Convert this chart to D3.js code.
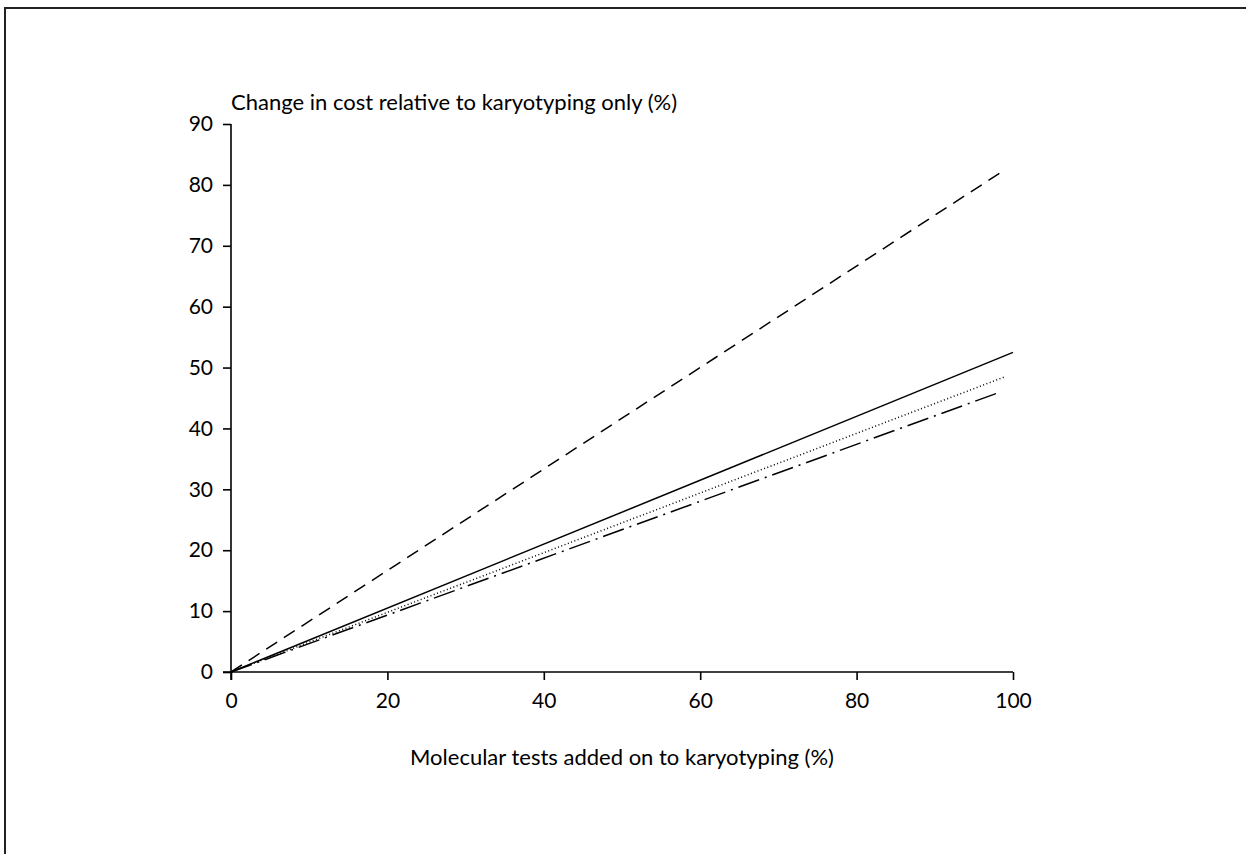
<!DOCTYPE html>
<html lang="en">
<head>
    <meta charset="UTF-8">
    <title>Change in cost vs molecular tests</title>
    <script src="https://cdn.jsdelivr.net/npm/d3@7"></script>
    <style>
        html, body {
            margin: 0;
            padding: 0;
            background: #fff;
        }

        svg {
            display: block;
        }

        svg text {
            font-family: Lato, "Open Sans", sans-serif;
            fill: #000;
        }

        .axis path,
        .axis line {
            stroke: #000;
            stroke-width: 1.6px;
        }

        .axis text {
            font-size: 21px;
        }

        .title {
            font-size: 22px;
        }

        .series {
            fill: none;
            stroke: #000;
            stroke-width: 1.5px;
        }
    </style>
</head>
<body>
    <svg width="1246" height="854"></svg>

    <script>
        // end points: [molecular tests %, change in cost %]
        const solidLine = [[0, 0], [100, 52.5]];
        const dottedLine = [[0, 0], [99, 48.5]];
        const dashDotLine = [[0, 0], [98.2, 45.9]];
        const dashedLine = [[0, 0], [98.5, 82.1]];

        const xTicks = [0, 20, 40, 60, 80, 100];
        const yTicks = [0, 10, 20, 30, 40, 50, 60, 70, 80, 90];

        const seriesList = [
            { values: solidLine, dash: null },
            { values: dottedLine, dash: "1,2.5" },
            { values: dashDotLine, dash: "22,6,2,6" },
            { values: dashedLine, dash: "13,8" }
        ];

        const svg = d3.select("svg");

        // outer frame (runs off the right and bottom edges)
        svg.append("rect")
            .attr("x", 5)
            .attr("y", 8)
            .attr("width", 1260)
            .attr("height", 870)
            .attr("fill", "none")
            .attr("stroke", "#222")
            .attr("stroke-width", 2);

        const x = d3.scaleLinear().domain([0, 100]).range([231, 1013]);
        const y = d3.scaleLinear().domain([0, 90]).range([672, 124]);

        // x axis
        svg.append("g")
            .attr("class", "axis")
            .attr("transform", `translate(0,${y(0)})`)
            .call(d3.axisBottom(x).tickValues(xTicks).tickSize(8).tickSizeOuter(0).tickPadding(13))
            .call(g => g.select(".domain").attr("d", `M${x(0) - 8},0H${x(100)}`));

        // y axis
        svg.append("g")
            .attr("class", "axis")
            .attr("transform", `translate(${x(0)},0)`)
            .call(d3.axisLeft(y).tickValues(yTicks).tickSize(8).tickSizeOuter(0).tickPadding(10))
            .call(g => g.select(".domain").attr("d", `M0,${y(0) + 8}V${y(90)}`));

        const line = d3.line()
            .x(d => x(d[0]))
            .y(d => y(d[1]));

        svg.selectAll("path.series")
            .data(seriesList)
            .enter()
            .append("path")
            .attr("class", "series")
            .attr("d", d => line(d.values))
            .attr("stroke-dasharray", d => d.dash);

        // axis titles
        svg.append("text")
            .attr("class", "title")
            .attr("x", x(0))
            .attr("y", 110)
            .text("Change in cost relative to karyotyping only (%)");

        svg.append("text")
            .attr("class", "title")
            .attr("x", (x(0) + x(100)) / 2)
            .attr("y", 765)
            .attr("text-anchor", "middle")
            .text("Molecular tests added on to karyotyping (%)");
    </script>
</body>
</html>
